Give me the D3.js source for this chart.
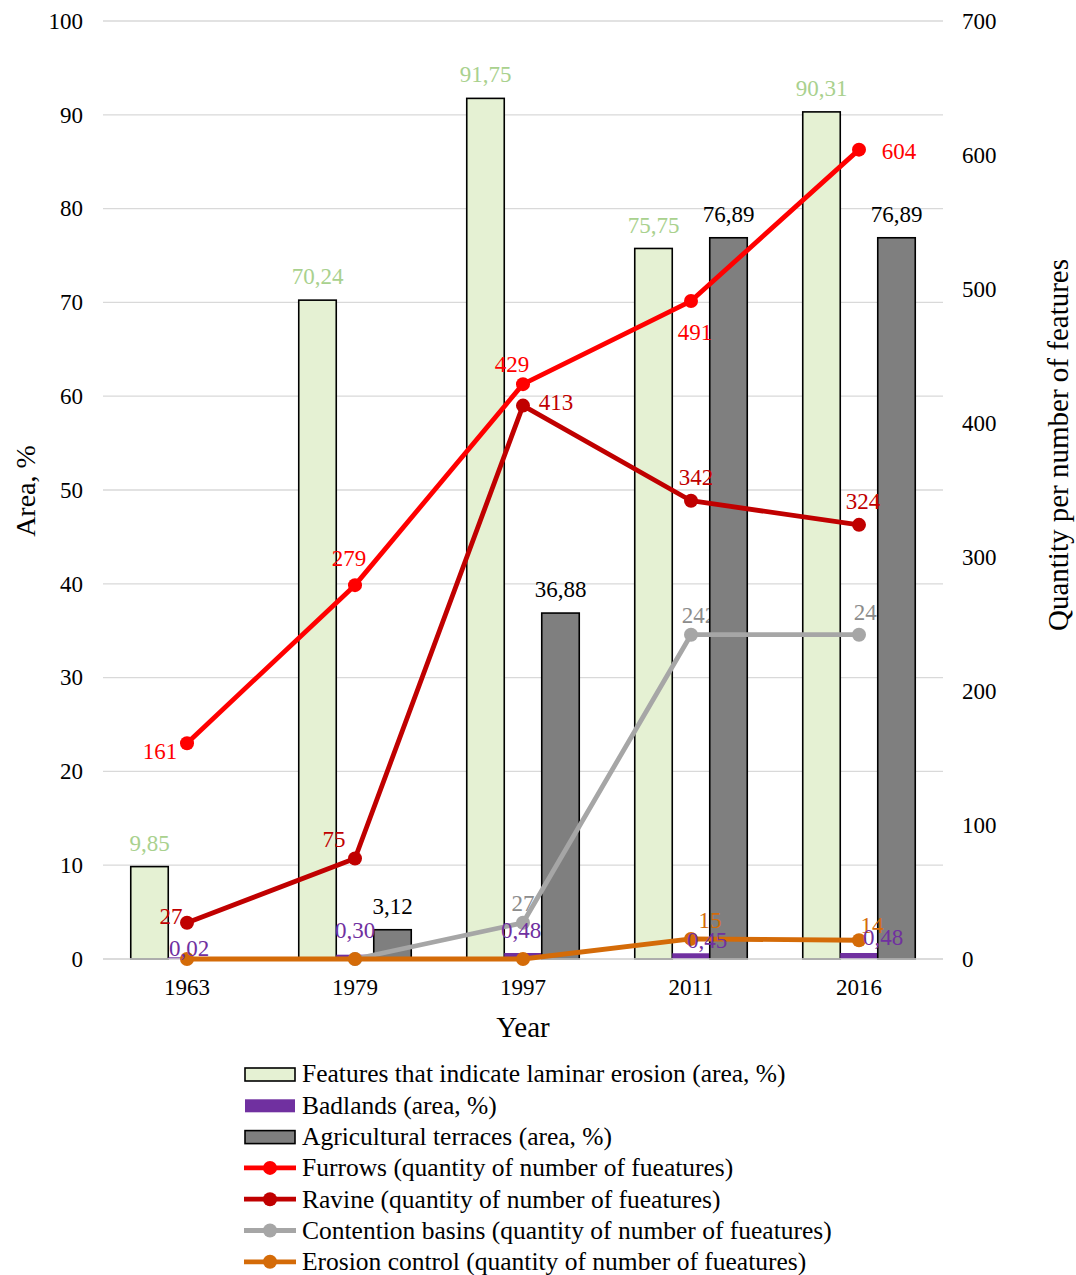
<!DOCTYPE html>
<head>
<meta charset="utf-8">
<style>
body { margin: 0; background: #fff; }
svg text { font-family: "Liberation Serif", "Times New Roman", serif; }
.grid line { stroke: #d9d9d9; stroke-width: 1.3px; }
.tick text { font-size: 23px; fill: #000; }
.lbl { font-size: 23px; }
.legend text { font-size: 25.5px; fill: #000; }
</style>
</head>
<body>
<svg width="1076" height="1275"></svg>
<script src="https://cdn.jsdelivr.net/npm/d3@7/dist/d3.min.js"></script>
<script>

var years = ["1963", "1979", "1997", "2011", "2016"];

// bars, area %
var laminar   = [9.85, 70.24, 91.75, 75.75, 90.31];
var badlands  = [0.02, 0.30, 0.48, 0.45, 0.48];
var terraces  = [null, 3.12, 36.88, 76.89, 76.89];

// lines, quantity of features
var furrows    = [161, 279, 429, 491, 604];
var ravine     = [27, 75, 413, 342, 324];
var contention = [null, 0, 27, 242, 242];
var erosion    = [0, 0, 0, 15, 14];

var leftTicks  = [0, 10, 20, 30, 40, 50, 60, 70, 80, 90, 100];
var rightTicks = [0, 100, 200, 300, 400, 500, 600, 700];

var svg = d3.select("svg"),
    pL = 103, pR = 943, pT = 21, pB = 959;

var x = d3.scaleBand().domain(years).range([pL, pR]);
var inner = d3.scaleBand().domain(["lam", "bad", "ter"]).range([-56.25, 56.25]);
var yL = d3.scaleLinear().domain([0, 100]).range([pB, pT]);
var yR = d3.scaleLinear().domain([0, 700]).range([pB, pT]);

function fmt(v) { return d3.format(".2f")(v).replace(".", ","); }
function cx(i) { return x(years[i]) + x.bandwidth() / 2; }

// gridlines
svg.append("g").attr("class", "grid")
  .selectAll("line").data(leftTicks).enter().append("line")
  .attr("x1", pL).attr("x2", pR)
  .attr("y1", function(d) { return yL(d); }).attr("y2", function(d) { return yL(d); });

// axes
var axL = svg.append("g").attr("transform", "translate(" + (pL - 20) + ",0)")
  .call(d3.axisLeft(yL).tickValues(leftTicks).tickSize(0).tickPadding(0));
var axR = svg.append("g").attr("transform", "translate(" + (pR + 19) + ",0)")
  .call(d3.axisRight(yR).tickValues(rightTicks).tickSize(0).tickPadding(0));
var axB = svg.append("g").attr("transform", "translate(0," + (pB + 20) + ")")
  .call(d3.axisBottom(x).tickSize(0).tickPadding(0));
[axL, axR, axB].forEach(function(a) { a.select(".domain").remove(); a.selectAll("text").attr("font-family", null); });

// contention labels sit under the terrace bars
var lineDefs = [
  { name: "Furrows (quantity of number of fueatures)", data: furrows, color: "#ff0000",
    off: [[-27, 8], [-6, -27], [-11, -20], [4, 31], [40, 1]] },
  { name: "Ravine (quantity of number of fueatures)", data: ravine, color: "#c00000",
    off: [[-16, -7], [-21, -20], [33, -4], [5, -24], [4, -24]] },
  { name: "Contention basins (quantity of number of fueatures)", data: contention, color: "#a6a6a6",
    off: [null, null, [0, -20], [8, -20], [12, -23]] },
  { name: "Erosion control (quantity of number of fueatures)", data: erosion, color: "#d46b08",
    off: [null, null, null, [19, -19], [13, -15]] }
];

var contDef = lineDefs[2];
svg.append("g").selectAll("text")
  .data(contDef.data.map(function(v, i) { return { v: v, i: i }; }).filter(function(d) { return d.v !== null && contDef.off[d.i]; }))
  .enter().append("text").attr("class", "lbl")
  .attr("x", function(d) { return cx(d.i) + contDef.off[d.i][0]; })
  .attr("y", function(d) { return yR(d.v) + contDef.off[d.i][1]; })
  .attr("dy", "0.35em").attr("text-anchor", "middle")
  .attr("fill", "#8c8c8c")
  .text(function(d) { return d.v; });

// bars
var barDefs = [
  { key: "lam", name: "Features that indicate laminar erosion (area, %)", data: laminar, fill: "#e5f1d3", stroke: "#000" },
  { key: "bad", name: "Badlands (area, %)", data: badlands, fill: "#7030a0", stroke: "none" },
  { key: "ter", name: "Agricultural terraces (area,  %)", data: terraces, fill: "#7f7f7f", stroke: "#000" }
];

barDefs.forEach(function(s) {
  svg.append("g").selectAll("rect")
    .data(s.data.map(function(v, i) { return { v: v, i: i }; }).filter(function(d) { return d.v !== null; }))
    .enter().append("rect")
    .attr("x", function(d) { return cx(d.i) + inner(s.key); })
    .attr("width", inner.bandwidth())
    .attr("y", function(d) { return s.key === "bad" ? yL(d.v) - 1.5 : yL(d.v); })
    .attr("height", function(d) { return s.key === "bad" ? pB - yL(d.v) + 1.5 : pB - yL(d.v); })
    .attr("fill", s.fill)
    .attr("stroke", s.stroke)
    .attr("stroke-width", 1.6);
});

// baseline
svg.append("line").attr("x1", pL).attr("x2", pR).attr("y1", pB).attr("y2", pB)
  .attr("stroke", "#d9d9d9").attr("stroke-width", 1.5);

// bar labels
svg.append("g").selectAll("text").data(laminar).enter().append("text").attr("class", "lbl")
  .attr("x", function(d, i) { return cx(i) + inner("lam") + inner.bandwidth() / 2; })
  .attr("y", function(d) { return yL(d) - 24; })
  .attr("dy", "0.35em").attr("text-anchor", "middle").attr("fill", "#a9d18e")
  .text(fmt);

svg.append("g").selectAll("text")
  .data(terraces.map(function(v, i) { return { v: v, i: i }; }).filter(function(d) { return d.v !== null; }))
  .enter().append("text").attr("class", "lbl")
  .attr("x", function(d) { return cx(d.i) + inner("ter") + inner.bandwidth() / 2; })
  .attr("y", function(d) { return yL(d.v) - 24; })
  .attr("dy", "0.35em").attr("text-anchor", "middle").attr("fill", "#000")
  .text(function(d) { return fmt(d.v); });

// lines
lineDefs.forEach(function(s) {
  var pts = s.data.map(function(v, i) { return { v: v, i: i }; }).filter(function(d) { return d.v !== null; });
  var line = d3.line().x(function(d) { return cx(d.i); }).y(function(d) { return yR(d.v); });
  svg.append("path").datum(pts).attr("d", line)
    .attr("fill", "none").attr("stroke", s.color).attr("stroke-width", 4.8).attr("stroke-linejoin", "round");
  svg.append("g").selectAll("circle").data(pts).enter().append("circle")
    .attr("cx", function(d) { return cx(d.i); }).attr("cy", function(d) { return yR(d.v); })
    .attr("r", 7).attr("fill", s.color);
});

// line labels (except contention, drawn earlier)
lineDefs.forEach(function(s, k) {
  if (k === 2) return;
  var pts = s.data.map(function(v, i) { return { v: v, i: i }; }).filter(function(d) { return d.v !== null && s.off[d.i]; });
  svg.append("g").selectAll("text").data(pts).enter().append("text").attr("class", "lbl")
    .attr("x", function(d) { return cx(d.i) + s.off[d.i][0]; })
    .attr("y", function(d) { return yR(d.v) + s.off[d.i][1]; })
    .attr("dy", "0.35em").attr("text-anchor", "middle")
    .attr("fill", s.color)
    .text(function(d) { return d.v; });
});

// badland labels
var badOff = [[2, -11], [0, -26], [-2, -25], [16, -15], [24, -18]];
svg.append("g").selectAll("text").data(badlands).enter().append("text").attr("class", "lbl")
  .attr("x", function(d, i) { return cx(i) + badOff[i][0]; })
  .attr("y", function(d, i) { return yL(d) + badOff[i][1]; })
  .attr("dy", "0.35em").attr("text-anchor", "middle").attr("fill", "#7030a0")
  .text(fmt);

// axis titles
svg.append("text").attr("x", (pL + pR) / 2).attr("y", 1027).attr("dy", "0.35em")
  .attr("text-anchor", "middle").style("font-size", "29px").text("Year");
svg.append("text").attr("transform", "translate(25,491) rotate(-90)").attr("dy", "0.35em")
  .attr("text-anchor", "middle").style("font-size", "28px").text("Area, %");
svg.append("text").attr("transform", "translate(1058,445) rotate(-90)").attr("dy", "0.35em")
  .attr("text-anchor", "middle").style("font-size", "29px").text("Quantity per number of features");

// legend
var legend = svg.append("g").attr("class", "legend");
var items = barDefs.concat(lineDefs);
items.forEach(function(s, i) {
  var y = 1074 + i * 31.3;
  var g = legend.append("g").attr("transform", "translate(244," + y + ")");
  if (s.key) {
    g.append("rect").attr("x", 1).attr("y", -6).attr("width", 50).attr("height", 13)
      .attr("fill", s.fill).attr("stroke", s.stroke).attr("stroke-width", 1.6);
  } else {
    g.append("line").attr("x1", 0).attr("x2", 52).attr("y1", 0).attr("y2", 0)
      .attr("stroke", s.color).attr("stroke-width", 4.8);
    g.append("circle").attr("cx", 26).attr("cy", 0).attr("r", 7).attr("fill", s.color);
  }
  g.append("text").attr("x", 58).attr("y", 0).attr("dy", "0.33em").text(s.name);
});

</script>
</body>
